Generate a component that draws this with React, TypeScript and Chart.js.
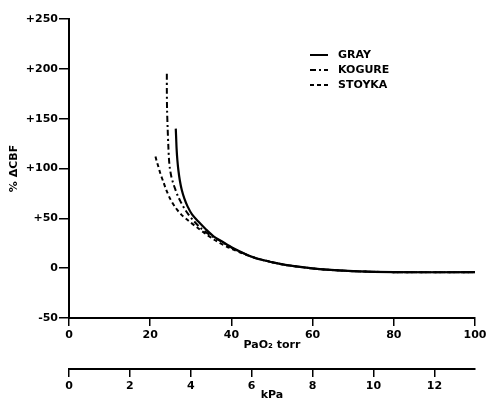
import { useEffect, useRef } from 'react';
import { Chart, registerables } from 'chart.js';

Chart.register(...registerables);

// ---- data ----
const seriesNames = ['GRAY', 'KOGURE', 'STOYKA'];
const torrTicks = [0, 20, 40, 60, 80, 100];
const kpaTicks = [0, 2, 4, 6, 8, 10, 12];
const cbfTicks = [-50, 0, 50, 100, 150, 200, 250];

const grayTorr = [26.3, 26.4, 26.5, 26.7, 26.95, 27.3, 27.75, 28.4, 29.2, 30.3, 31.8, 33.7, 35.6, 37.6, 40.5, 45.3, 50, 53.7, 61.8, 70, 80, 100];
const grayVal = [140, 130, 120, 108, 98, 88, 79, 70, 62, 54, 47, 39, 32, 27, 20, 11, 6, 3, -1, -3, -4, -4];

const kogureTorr = [24.1, 24.1, 24.15, 24.3, 24.45, 24.65, 24.85, 25.2, 25.6, 26.1, 26.75, 27.45, 28.4, 29.4, 30.6, 32.5, 34.8, 37.4, 40.3, 45.3, 50, 53.7, 61.8, 70, 80, 100];
const kogureVal = [195, 178, 160, 140, 124, 108, 100, 92, 86, 80, 73, 67, 60, 54, 48, 40, 33, 27, 20, 11, 6, 3, -1, -3, -4, -4];

const stoykaTorr = [21.3, 21.55, 22.0, 22.5, 23.2, 24.0, 25.0, 26.2, 27.6, 29.3, 31.5, 33.8, 36.0, 39.7, 45.0, 50, 53.7, 61.8, 70, 80, 100];
const stoykaVal = [112, 108, 102, 95, 87, 78, 69, 61, 54, 48, 41, 34, 28, 20, 11.5, 6, 3, -1, -3, -4, -4];

const TORR_PER_KPA = 7.5;

const FONT = "'DejaVu Sans', sans-serif";

function pts(xs: number[], ys: number[]) {
  return xs.map((x, i) => ({ x, y: ys[i] }));
}

export default function App() {
  const ref = useRef<HTMLCanvasElement>(null);

  useEffect(() => {
    if (!ref.current) return;

    const legendPlugin = {
      id: 'manualLegend',
      afterDatasetsDraw(chart: any) {
        const ctx = chart.ctx;
        const ys = [55, 70, 85];
        ctx.save();
        chart.data.datasets.forEach((ds: any, i: number) => {
          const y = ys[i];
          ctx.beginPath();
          ctx.strokeStyle = '#000';
          ctx.lineWidth = 2;
          ctx.setLineDash(ds.borderDash || []);
          ctx.moveTo(310, y);
          ctx.lineTo(328, y);
          ctx.stroke();
          ctx.setLineDash([]);
          ctx.fillStyle = '#000';
          ctx.font = `bold 11px ${FONT}`;
          ctx.textBaseline = 'middle';
          ctx.textAlign = 'left';
          ctx.fillText(ds.label, 338, y);
        });
        ctx.restore();
      },
    };

    const common = {
      borderColor: '#000',
      backgroundColor: '#000',
      borderWidth: 2,
      pointRadius: 0,
      fill: false,
      tension: 0.3,
      xAxisID: 'x',
      yAxisID: 'y',
    };

    const hFit = (h: number) => (s: any) => {
      s.height = h;
      s.paddingLeft = 0;
      s.paddingRight = 0;
    };

    const chart = new Chart(ref.current, {
      type: 'line',
      data: {
        datasets: [
          { ...common, label: seriesNames[0], data: pts(grayTorr, grayVal), borderWidth: 2.2 },
          { ...common, label: seriesNames[1], data: pts(kogureTorr, kogureVal), borderDash: [6, 3, 2, 3] },
          { ...common, label: seriesNames[2], data: pts(stoykaTorr, stoykaVal), borderDash: [4, 3] },
        ],
      },
      options: {
        responsive: false,
        animation: false,
        layout: { padding: { left: 0, right: 11, top: 19, bottom: 0 } },
        plugins: {
          legend: { display: false },
          tooltip: { enabled: false },
        },
        scales: {
          x: {
            type: 'linear',
            position: 'bottom',
            weight: 0,
            min: 0,
            max: 100,
            afterBuildTicks: (s: any) => {
              s.ticks = torrTicks.map((v) => ({ value: v }));
            },
            afterFit: hFit(51),
            grid: {
              display: true,
              drawOnChartArea: false,
              drawTicks: true,
              tickLength: 8,
              color: '#000',
              lineWidth: 1.5,
            },
            border: { display: true, color: '#000', width: 2 },
            ticks: {
              color: '#000',
              padding: 3,
              maxRotation: 0,
              font: { family: FONT, size: 11, weight: 'bold' },
            },
            title: {
              display: true,
              text: 'PaO₂ torr',
              color: '#000',
              font: { family: FONT, size: 11, weight: 'bold' },
              padding: { top: 0, bottom: 17 },
            },
          },
          x2: {
            type: 'linear',
            position: 'bottom',
            weight: 1,
            min: 0,
            max: 100 / TORR_PER_KPA,
            afterBuildTicks: (s: any) => {
              s.ticks = kpaTicks.map((v) => ({ value: v }));
            },
            afterFit: hFit(39),
            grid: {
              display: true,
              drawOnChartArea: false,
              drawTicks: true,
              tickLength: 8,
              color: '#000',
              lineWidth: 1.5,
            },
            border: { display: true, color: '#000', width: 2 },
            ticks: {
              color: '#000',
              padding: 3,
              maxRotation: 0,
              font: { family: FONT, size: 11, weight: 'bold' },
            },
            title: {
              display: true,
              text: 'kPa',
              color: '#000',
              font: { family: FONT, size: 11, weight: 'bold' },
              padding: { top: 0, bottom: 6 },
            },
          },
          y: {
            type: 'linear',
            position: 'left',
            min: -50,
            max: 250,
            afterBuildTicks: (s: any) => {
              s.ticks = cbfTicks.map((v) => ({ value: v }));
            },
            afterFit: (s: any) => {
              s.width = 69;
            },
            grid: {
              display: true,
              drawOnChartArea: false,
              drawTicks: true,
              tickLength: 10,
              color: '#000',
              lineWidth: 1.5,
            },
            border: { display: true, color: '#000', width: 2 },
            ticks: {
              color: '#000',
              padding: 1,
              font: { family: FONT, size: 11, weight: 'bold' },
              callback: (v: any) => (Number(v) > 0 ? '+' + v : String(v)),
            },
            title: {
              display: true,
              text: '% ΔCBF',
              color: '#000',
              font: { family: FONT, size: 11, weight: 'bold' },
              padding: { top: 8, bottom: 0 },
            },
          },
        },
      },
      plugins: [legendPlugin],
    } as any);

    return () => chart.destroy();
  }, []);

  return (
    <div style={{ position: 'absolute', left: 0, top: 0, width: 486, height: 408, background: '#fff' }}>
      <canvas ref={ref} width={486} height={408} style={{ display: 'block' }} />
    </div>
  );
}
